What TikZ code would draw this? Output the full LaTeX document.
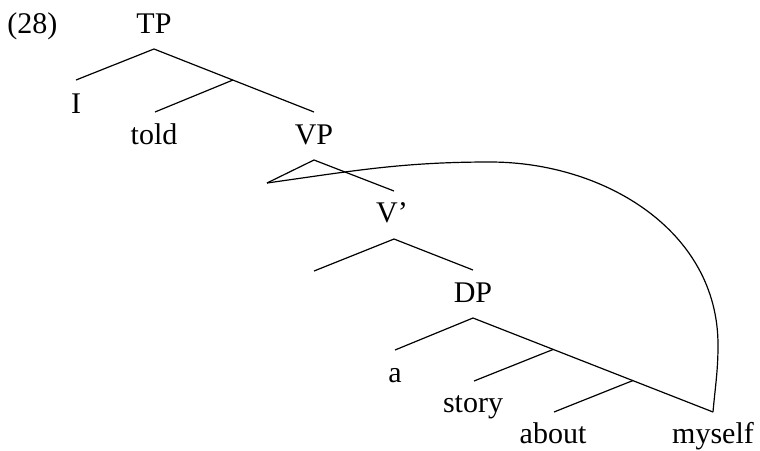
\documentclass[tikz,border=0pt]{standalone}
\usepackage{fontspec}
\setmainfont{Liberation Serif}
\begin{document}
\begin{tikzpicture}[x=0.5pt,y=-0.5pt,
  lbl/.style={anchor=base, inner sep=0pt, font=\fontsize{15}{18}\selectfont},
  br/.style={line width=0.6pt, line join=round}]
\useasboundingbox (0,0) rectangle (760,450);
% labels
\node[lbl, anchor=base west] (ex) at (7,33) {(28)};
\node[lbl] (TP) at (154,33) {TP};
\node[lbl] (I) at (76,113) {I};
\node[lbl] (told) at (154,144) {told};
\node[lbl] (VP) at (314,144) {VP};
\node[lbl] (V) at (392,222) {V’};
\node[lbl] (DP) at (473,302) {DP};
\node[lbl] (a) at (395,382) {a};
\node[lbl] (story) at (473,412) {story};
\node[lbl] (about) at (553,443) {about};
\node[lbl] (myself) at (713,443) {myself};
% tree points
\coordinate (TPt) at (154,49);
\coordinate (Ie) at (76,80);
\coordinate (TPb) at (233,80);
\coordinate (tolde) at (155,112);
\coordinate (VPe) at (314,112);
\coordinate (VPt) at (314,160);
\coordinate (VPl) at (267,183);
\coordinate (VPr) at (394,191);
\coordinate (Vt) at (394,239);
\coordinate (Vl) at (314,271);
\coordinate (Vr) at (473,270);
\coordinate (DPt) at (473,318);
\coordinate (al) at (395,350);
\coordinate (b1) at (553,349.5);
\coordinate (storye) at (474,381);
\coordinate (b2) at (633,380.5);
\coordinate (aboute) at (554,412);
\coordinate (myselfe) at (713,412);
\coordinate (mvtop) at (490,162);
\coordinate (mvright) at (718,345);
% branches
\draw[br] (Ie) -- (TPt) -- (VPe);
\draw[br] (TPb) -- (tolde);
\draw[br] (VPl) -- (VPt) -- (VPr);
\draw[br] (Vl) -- (Vt) -- (Vr);
\draw[br] (al) -- (DPt) -- (myselfe);
\draw[br] (b1) -- (storye);
\draw[br] (b2) -- (aboute);
% movement curve
\draw[br] (VPl) to[out=8,in=180] (mvtop) to[out=0,in=90] (mvright) to[out=-90,in=85] (myselfe);
\end{tikzpicture}
\end{document}
